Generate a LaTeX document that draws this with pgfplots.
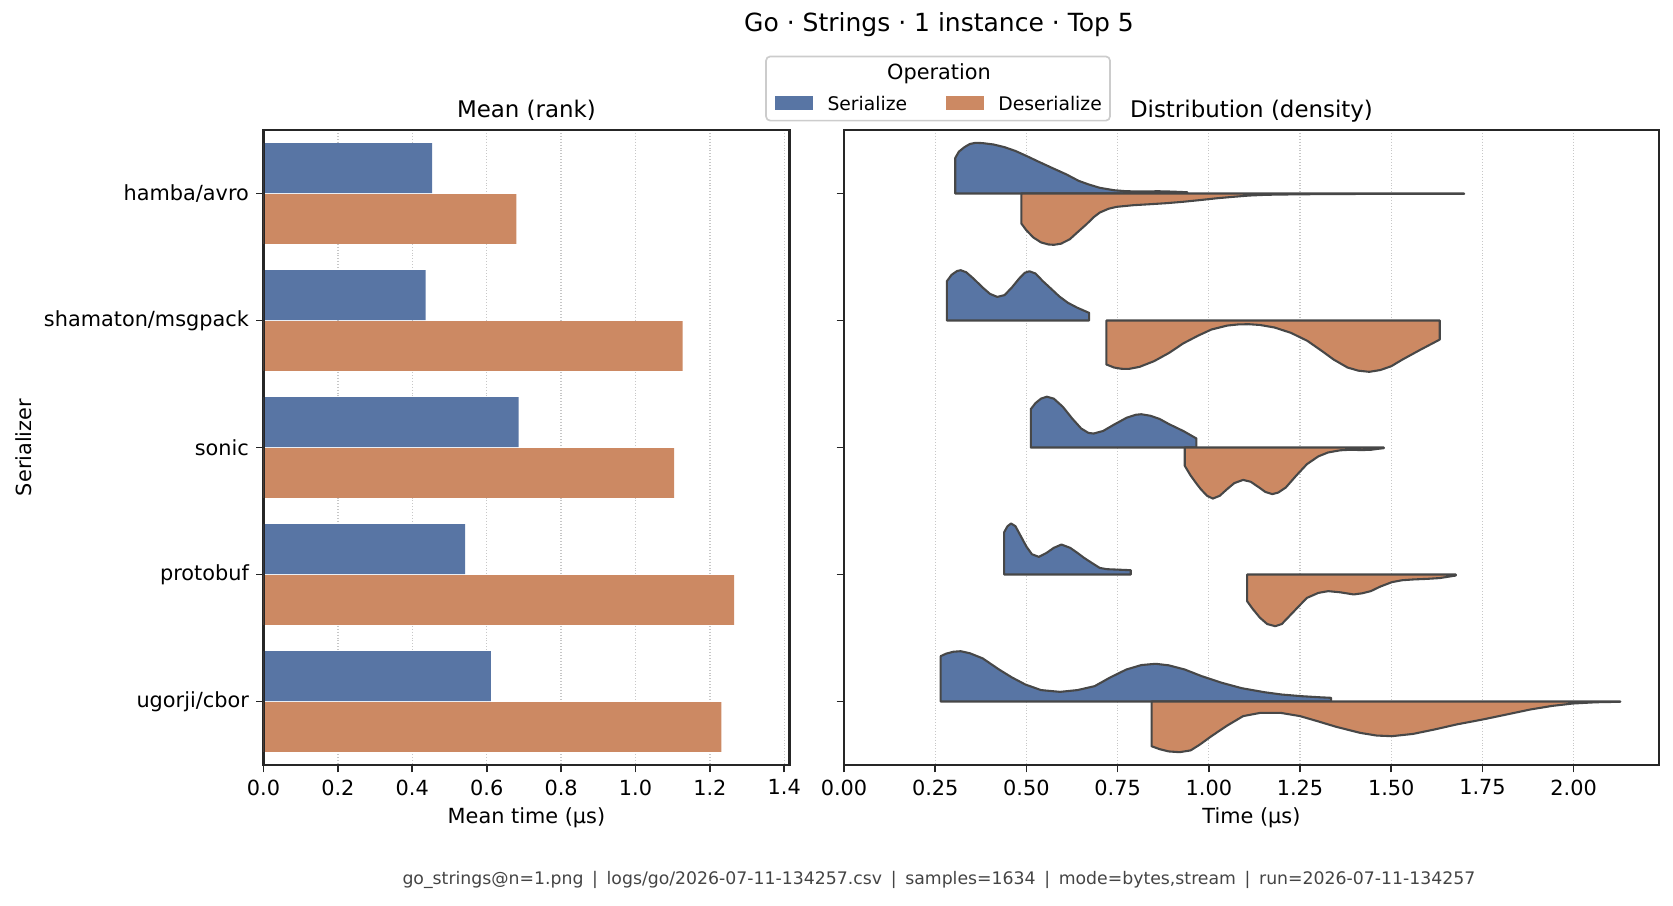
\documentclass[border=0pt]{standalone}
\usepackage{pgfplots}
\pgfplotsset{compat=1.18}
\usepackage{fontspec}
\setmainfont{DejaVu Sans}
\definecolor{ser}{HTML}{5875A4}
\definecolor{des}{HTML}{CC8963}
\definecolor{vedge}{HTML}{474747}
\definecolor{spine}{HTML}{262626}
\definecolor{foot}{HTML}{444444}
\begin{document}
\begin{tikzpicture}
\path[use as bounding box] (0,0) rectangle (803.04pt,434.4pt);
\pgfplotsset{
  base/.style={
    scale only axis, height=304.8pt, anchor=south west,
    ymin=-0.5, ymax=4.5, y dir=reverse, ytick={0,1,2,3,4},
    tick pos=left, tick align=outside, major tick length=3.5pt,
    axis line style={spine, line width=1pt},
    every tick/.style={spine, line width=0.8pt},
    xmajorgrids, major grid style={densely dotted, black!22, line width=0.6pt},
    /pgf/number format/assume math mode=true,
    tick label style={font=\fontsize{10}{12}\selectfont, text=black},
  }
}
% ---------- left panel: mean bars ----------
\begin{axis}[base, at={(126.48pt,67.2pt)}, width=252.48pt,
  xmin=0, xmax=1.414, xtick={0,0.2,0.4,0.6,0.8,1.0,1.2,1.4},
  yticklabels={hamba/avro,shamaton/msgpack,sonic,protobuf,ugorji/cbor},
  xticklabel style={/pgf/number format/.cd, fixed, fixed zerofill, precision=1}]
\addplot[xbar, bar width=0.392, bar shift=0, fill=ser, draw=none]
  coordinates {(0.453,-0.2) (0.436,0.8) (0.686,1.8) (0.542,2.8) (0.611,3.8)};
\addplot[xbar, bar width=0.392, bar shift=0, fill=des, draw=none]
  coordinates {(0.680,0.2) (1.127,1.2) (1.104,2.2) (1.265,3.2) (1.231,4.2)};
\draw[spine, line width=1pt] (rel axis cs:0,0) rectangle (rel axis cs:1,1);
\end{axis}
% ---------- right panel: split violins ----------
\begin{axis}[base, at={(405.12pt,67.2pt)}, width=391.2pt,
  xmin=0, xmax=2.234, xtick={0,0.25,0.5,0.75,1,1.25,1.5,1.75,2},
  yticklabel=\empty,
  xticklabel style={/pgf/number format/.cd, fixed, fixed zerofill, precision=2}]
\pgfplotsset{every axis plot/.append style={draw=vedge, line width=1pt, line join=round}}
% hamba/avro
\addplot[fill=ser] coordinates {(0.305,0) (0.305,-0.281) (0.315,-0.33) (0.330,-0.365) (0.345,-0.390) (0.360,-0.399) (0.380,-0.397) (0.410,-0.386) (0.440,-0.365) (0.470,-0.335) (0.500,-0.296) (0.530,-0.255) (0.570,-0.202) (0.610,-0.150) (0.643,-0.100) (0.670,-0.072) (0.701,-0.045) (0.740,-0.026) (0.774,-0.018) (0.820,-0.016) (0.861,-0.018) (0.900,-0.015) (0.941,-0.010) (0.941,0)} -- cycle;
\addplot[fill=des] coordinates {(0.486,0) (0.486,0.236) (0.500,0.29) (0.519,0.346) (0.540,0.385) (0.560,0.401) (0.575,0.404) (0.595,0.395) (0.619,0.360) (0.640,0.305) (0.665,0.241) (0.685,0.185) (0.701,0.150) (0.725,0.120) (0.747,0.105) (0.793,0.092) (0.840,0.084) (0.884,0.076) (0.930,0.065) (0.975,0.052) (1.020,0.038) (1.067,0.026) (1.110,0.016) (1.158,0.010) (1.250,0.006) (1.350,0.004) (1.450,0.003) (1.550,0.002) (1.650,0.002) (1.700,0.002) (1.700,0)} -- cycle;
% shamaton/msgpack
\addplot[fill=ser] coordinates {(0.282,1) (0.282,0.69) (0.295,0.64) (0.310,0.61) (0.320,0.604) (0.335,0.62) (0.355,0.67) (0.380,0.74) (0.400,0.79) (0.420,0.814) (0.440,0.80) (0.460,0.74) (0.480,0.67) (0.495,0.625) (0.508,0.612) (0.525,0.63) (0.545,0.69) (0.570,0.756) (0.590,0.81) (0.614,0.861) (0.640,0.90) (0.672,0.94) (0.672,1)} -- cycle;
\addplot[fill=des] coordinates {(0.719,1) (0.719,1.346) (0.740,1.37) (0.760,1.38) (0.781,1.381) (0.810,1.365) (0.850,1.32) (0.891,1.255) (0.930,1.18) (0.970,1.12) (1.007,1.071) (1.050,1.04) (1.080,1.031) (1.109,1.029) (1.140,1.035) (1.180,1.055) (1.225,1.097) (1.270,1.16) (1.310,1.24) (1.342,1.307) (1.380,1.37) (1.410,1.395) (1.440,1.404) (1.470,1.39) (1.500,1.36) (1.531,1.307) (1.580,1.23) (1.633,1.150) (1.633,1)} -- cycle;
% sonic
\addplot[fill=ser] coordinates {(0.512,2) (0.512,1.698) (0.525,1.65) (0.540,1.615) (0.556,1.600) (0.575,1.615) (0.600,1.68) (0.625,1.77) (0.650,1.85) (0.670,1.885) (0.684,1.890) (0.710,1.87) (0.740,1.82) (0.775,1.765) (0.800,1.742) (0.815,1.738) (0.840,1.75) (0.865,1.775) (0.891,1.816) (0.930,1.87) (0.966,1.929) (0.966,2)} -- cycle;
\addplot[fill=des] coordinates {(0.934,2) (0.934,2.144) (0.950,2.22) (0.965,2.28) (0.978,2.328) (0.995,2.38) (1.011,2.402) (1.030,2.38) (1.050,2.328) (1.070,2.28) (1.094,2.255) (1.115,2.27) (1.138,2.315) (1.155,2.35) (1.174,2.367) (1.190,2.355) (1.211,2.315) (1.240,2.22) (1.269,2.131) (1.300,2.07) (1.327,2.039) (1.360,2.022) (1.386,2.018) (1.420,2.02) (1.444,2.018) (1.465,2.01) (1.480,2.005) (1.480,2)} -- cycle;
% protobuf
\addplot[fill=ser] coordinates {(0.439,3) (0.439,2.667) (0.448,2.62) (0.458,2.598) (0.470,2.62) (0.485,2.70) (0.500,2.78) (0.515,2.84) (0.534,2.861) (0.555,2.83) (0.575,2.79) (0.596,2.764) (0.620,2.79) (0.640,2.83) (0.658,2.869) (0.680,2.91) (0.701,2.948) (0.720,2.958) (0.745,2.961) (0.786,2.966) (0.786,3)} -- cycle;
\addplot[fill=des] coordinates {(1.105,3) (1.105,3.21) (1.120,3.27) (1.140,3.34) (1.160,3.39) (1.182,3.407) (1.200,3.39) (1.230,3.30) (1.250,3.24) (1.269,3.184) (1.300,3.145) (1.327,3.131) (1.360,3.14) (1.397,3.157) (1.420,3.148) (1.444,3.131) (1.470,3.095) (1.502,3.060) (1.530,3.045) (1.560,3.039) (1.600,3.034) (1.633,3.028) (1.677,3.008) (1.677,3)} -- cycle;
% ugorji/cbor
\addplot[fill=ser] coordinates {(0.265,4) (0.265,3.643) (0.280,3.623) (0.300,3.608) (0.320,3.604) (0.345,3.62) (0.380,3.66) (0.425,3.748) (0.460,3.81) (0.497,3.866) (0.540,3.91) (0.592,3.924) (0.640,3.91) (0.687,3.879) (0.730,3.81) (0.774,3.748) (0.815,3.713) (0.854,3.703) (0.890,3.715) (0.934,3.748) (0.980,3.80) (1.036,3.853) (1.090,3.895) (1.153,3.927) (1.200,3.945) (1.254,3.958) (1.300,3.966) (1.335,3.971) (1.335,4)} -- cycle;
\addplot[fill=des] coordinates {(0.843,4) (0.843,4.352) (0.865,4.375) (0.890,4.393) (0.920,4.399) (0.950,4.385) (0.975,4.34) (1.007,4.273) (1.050,4.19) (1.094,4.115) (1.140,4.09) (1.196,4.089) (1.250,4.115) (1.298,4.155) (1.350,4.20) (1.415,4.247) (1.460,4.268) (1.502,4.273) (1.560,4.255) (1.619,4.220) (1.680,4.18) (1.750,4.142) (1.820,4.10) (1.881,4.063) (1.940,4.035) (1.997,4.016) (2.060,4.006) (2.128,4.002) (2.128,4)} -- cycle;
\end{axis}
% ---------- texts ----------
\node[font=\fontsize{12}{14}\selectfont] at (450.72pt,422.64pt) {Go · Strings · 1 instance · Top 5};
\node[anchor=base, font=\fontsize{11}{13}\selectfont] at (252.7pt,378.0pt) {Mean (rank)};
\node[anchor=base, font=\fontsize{11}{13}\selectfont] at (600.7pt,378.0pt) {Distribution (density)};
\node[rotate=90, font=\fontsize{10}{12}\selectfont] at (11.3pt,219.6pt) {Serializer};
\node[font=\fontsize{10}{12}\selectfont] at (252.7pt,41.8pt) {Mean time (µs)};
\node[font=\fontsize{10}{12}\selectfont] at (600.7pt,41.8pt) {Time (µs)};
\node[font=\fontsize{8.3}{10}\selectfont, text=foot] at (450.7pt,12pt) {go\_strings@n=1.png\enspace|\enspace logs/go/2026-07-11-134257.csv\enspace|\enspace samples=1634\enspace|\enspace mode=bytes,stream\enspace|\enspace run=2026-07-11-134257};
% ---------- legend ----------
\draw[black!20, fill=white, rounded corners=2pt, line width=0.8pt] (367.7pt,376.5pt) rectangle (532.8pt,407.3pt);
\node[font=\fontsize{10}{12}\selectfont] at (450.7pt,399.1pt) {Operation};
\fill[ser] (372pt,381.4pt) rectangle (390.2pt,388.1pt);
\node[anchor=west, font=\fontsize{9}{11}\selectfont, inner sep=0pt] at (397pt,384.7pt) {Serialize};
\fill[des] (454.1pt,381.4pt) rectangle (472.3pt,388.1pt);
\node[anchor=west, font=\fontsize{9}{11}\selectfont, inner sep=0pt] at (479pt,384.7pt) {Deserialize};
\end{tikzpicture}
\end{document}
